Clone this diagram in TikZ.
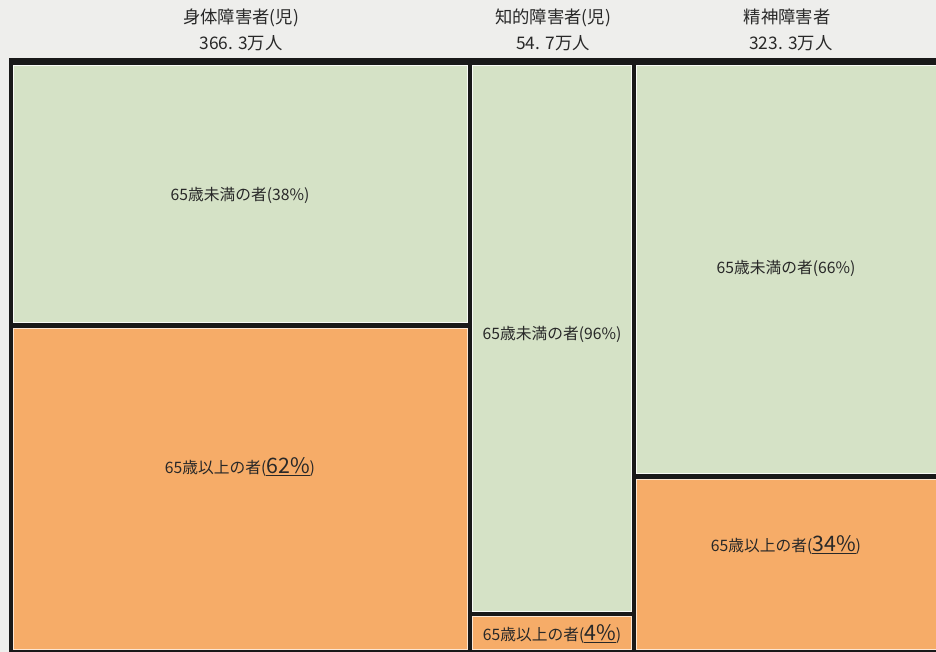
\documentclass[tikz,border=0pt]{standalone}
\usepackage{fontspec}
\setmainfont{Noto Sans CJK JP}
\definecolor{bgc}{RGB}{238,238,236}
\definecolor{grn}{RGB}{213,226,198}
\definecolor{org}{RGB}{246,172,104}
\definecolor{ink}{RGB}{40,40,40}
\tikzset{
  cellg/.style={fill=grn, draw=white!85!grn, line width=0.6pt},
  cello/.style={fill=org, draw=white!70!org, line width=0.6pt},
  head/.style={font=\fontsize{13}{19.5}\selectfont, text=ink, inner sep=0pt, align=center},
  lab/.style={font=\fontsize{11.8}{13}\selectfont, text=ink, inner sep=0pt},
}
\newcommand{\bigpct}[1]{{\fontsize{16}{17}\selectfont\underline{#1}}}
\begin{document}
\begin{tikzpicture}[x=0.75pt,y=-0.75pt]
\useasboundingbox (0,0) rectangle (936,652);
\fill[bgc] (0,0) rectangle (936,652);
% frame (dark fill forms the dividers)
\fill[black!90] (8.5,58.5) rectangle (936,652);
% cells
\path[cellg] (13.5,65.5) rectangle (467.5,322.5);
\path[cello] (13.5,328) rectangle (467.5,649);
\path[cellg] (472.5,65.5) rectangle (631,611.5);
\path[cello] (472.5,616.5) rectangle (631,649);
\path[cellg] (636,65.5) rectangle (936,473.5);
\path[cello] (636,479) rectangle (936,649);
% headers
\node[head] (h1) at (241,30) {身体障害者(児)\\366. 3万人};
\node[head] (h2) at (553,30) {知的障害者(児)\\54. 7万人};
\node[head] (h3) at (787,30) {精神障害者\\\ \ 323. 3万人};
% labels
\node[lab] (l1) at (240,195) {65歳未満の者(38\%)};
\node[lab] (l2) at (240,467) {65歳以上の者(\bigpct{62\%})};
\node[lab] (l3) at (552,334) {65歳未満の者(96\%)};
\node[lab] (l4) at (552,634) {65歳以上の者(\bigpct{4\%})};
\node[lab] (l5) at (786,268) {65歳未満の者(66\%)};
\node[lab] (l6) at (786,545) {65歳以上の者(\bigpct{34\%})};
\end{tikzpicture}
\end{document}
